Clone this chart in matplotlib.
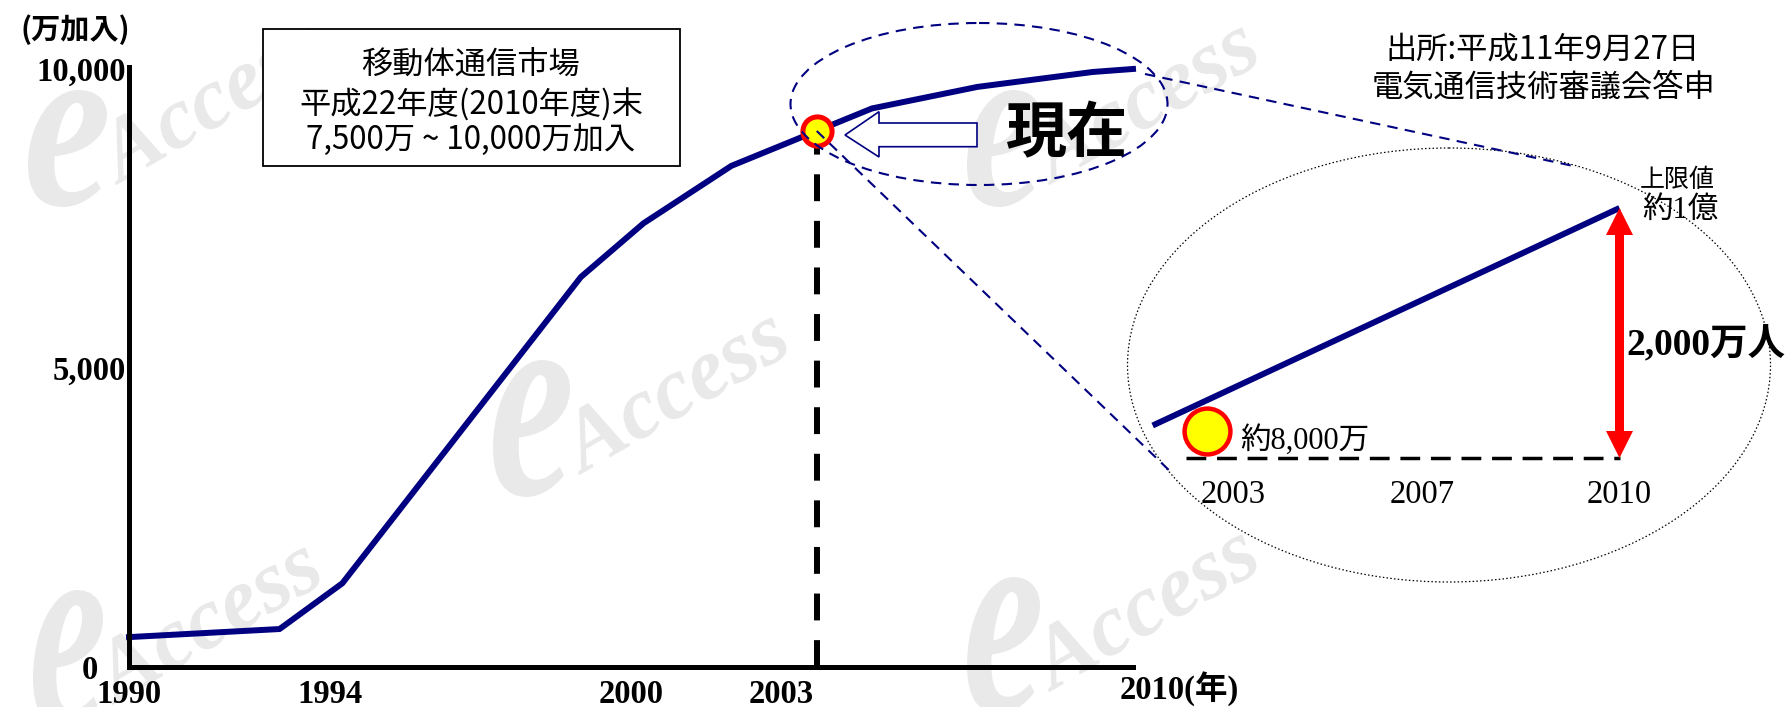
import numpy as np
import matplotlib
matplotlib.use("Agg")
import matplotlib.pyplot as plt
from matplotlib.patches import Ellipse, Rectangle, Polygon, PathPatch
from matplotlib.textpath import TextPath
from matplotlib.font_manager import FontProperties
from matplotlib.transforms import Affine2D, ScaledTranslation

# Mobile subscriptions, 万加入
years = [1990, 1993, 1994.25, 1999, 2000.25, 2002, 2004.8, 2006.9, 2009.2, 2010]
subs = [500, 635, 1400, 6520, 7420, 8380, 9340, 9700, 9950, 10000]
year_ticks = [1990, 1994, 2000, 2003, 2010]
year_labels = ["1990", "1994", "2000", "2003", "2010(年)"]
value_ticks = [0, 5000, 10000]
value_labels = ["0", "5,000", "10,000"]
now_year = 2003.7

# Close-up of 2003 -> 2010
zoom_years = [2001.3, 2010]
zoom_subs = [8260, 10000]
zoom_ticks = [2003, 2007, 2010]
zoom_tick_labels = ["2003", "2007", "2010"]
zoom_now = (2002.45, 8220)
zoom_base = 8000
zoom_cap = 10000
zoom_base_span = [2002, 2010]

NAVY = "#000080"
WM_GREY = "#e9e9e9"
SERIF_CJK = ["Liberation Serif", "Noto Sans CJK JP"]
SANS_CJK = ["Noto Sans CJK JP", "DejaVu Sans"]

W, H = 1787, 707
fig = plt.figure(figsize=(W / 100, H / 100), dpi=100)
fig.patch.set_facecolor("white")


def px_rect(x0, y0, x1, y1):
    return [x0 / W, 1 - y1 / H, (x1 - x0) / W, (y1 - y0) / H]


# faint "eAccess" watermarks behind everything
wm = fig.add_axes([0, 0, 1, 1], zorder=0)
wm.set_xlim(0, W)
wm.set_ylim(0, H)
wm.axis("off")
WM_PROP = FontProperties(family="Liberation Serif", style="italic", weight="bold")


def watermark(x0, x1, y0, y1):
    e = TextPath((0, 0), "e", size=100, prop=WM_PROP)
    ext = e.get_extents()
    t = (Affine2D().translate(-ext.x0, -ext.y0)
         .scale((x1 - x0) / ext.width, (y1 - y0) / ext.height)
         .translate(x0, H - y1))
    wm.add_patch(PathPatch(t.transform_path(e), fc=WM_GREY, ec="none"))
    word = TextPath((0, 0), "Access", size=88, prop=WM_PROP)
    t2 = Affine2D().rotate_deg(30).translate(x1 + 13, H - y1 + 24)
    wm.add_patch(PathPatch(t2.transform_path(word), fc=WM_GREY, ec="none"))


for box in [(28, 107, 90, 207), (967, 1040, 90, 207), (493, 570, 360, 497),
            (33, 103, 590, 727), (967, 1040, 577, 714)]:
    watermark(*box)

# main growth curve
ax = fig.add_axes(px_rect(129, 67, 1133, 667), zorder=1)
ax.patch.set_alpha(0)
ax.set_xlim(1990, 2010)
ax.set_ylim(0, 10033)
for side in ["top", "right"]:
    ax.spines[side].set_visible(False)
for side in ["left", "bottom"]:
    ax.spines[side].set_linewidth(3.6)
    ax.spines[side].set_color("black")

ax.plot(years, subs, color=NAVY, lw=4.3, clip_on=False, zorder=2)
now_val = np.interp(now_year, years, subs)
ax.plot([now_year, now_year], [0, now_val], color="black", lw=4.3,
        dashes=(4.5, 3.3), zorder=1)
ax.plot(now_year, now_val, "o", ms=21, mfc="yellow", mec="red", mew=3.6,
        zorder=4, clip_on=False)

ax.set_xticks(year_ticks, year_labels, fontfamily=SERIF_CJK,
              fontweight="bold", fontsize=23.5)
ax.set_yticks(value_ticks, value_labels, fontfamily="Liberation Serif",
              fontweight="bold", fontsize=23.5)
ax.tick_params(axis="x", length=0, pad=8.5)
ax.tick_params(axis="y", length=0, pad=2)
last = ax.get_xticklabels()[-1]
last.set_ha("left")
last.set_transform(last.get_transform() + ScaledTranslation(-0.13, 0.075, fig.dpi_scale_trans))
zero = ax.get_yticklabels()[0]
zero.set_transform(zero.get_transform() + ScaledTranslation(-0.28, 0, fig.dpi_scale_trans))

# overlay for callouts, in pixel coordinates (origin top-left)
ov = fig.add_axes([0, 0, 1, 1], zorder=2)
ov.patch.set_alpha(0)
ov.set_xlim(0, W)
ov.set_ylim(H, 0)
ov.axis("off")

now_px = ov.transData.inverted().transform(ax.transData.transform((now_year, now_val)))

ov.add_patch(Ellipse((1449, 365), 643, 434, fc="white", ec="black", lw=0.9,
                     ls=(0, (1.2, 1.8)), zorder=1))
ov.plot([1145, 1578], [74, 167], color=NAVY, lw=1.5, dashes=(5, 3.5), zorder=3)
ov.plot([now_px[0], 1174], [now_px[1], 475], color=NAVY, lw=1.5,
        dashes=(5, 3.5), zorder=3)
ov.add_patch(Ellipse((979, 104), 377, 162, fill=False, ec=NAVY, lw=1.5,
                     ls=(0, (5, 3.5)), zorder=2))

ov.add_patch(Rectangle((262.5, 29), 417, 137, fc="white", ec="black", lw=1.3, zorder=2))
for txt, y in [("移動体通信市場", 65), ("平成22年度(2010年度)末", 105),
               ("7,500万 ~ 10,000万加入", 140)]:
    ov.text(471, y, txt, ha="center", va="center", fontsize=22.5,
            fontfamily=SANS_CJK, zorder=3)

ov.text(75, 30, "(万加入)", ha="center", va="center", fontsize=21,
        fontweight="bold", fontfamily=SANS_CJK)

ov.add_patch(Polygon([(845, 135), (879, 111.7), (879, 123), (977, 123),
                      (977, 146.7), (879, 146.7), (879, 157)],
                     closed=True, fc="white", ec=NAVY, lw=1.2, zorder=3))
ov.text(1066.7, 135, "現在", ha="center", va="center", fontsize=44,
        fontweight="bold", fontfamily=SANS_CJK, zorder=3)

ov.text(1543, 50, "出所:平成11年9月27日", ha="center", va="center",
        fontsize=22.5, fontfamily=SANS_CJK)
ov.text(1543, 87, "電気通信技術審議会答申", ha="center", va="center",
        fontsize=22.5, fontfamily=SANS_CJK)

ov.text(1639.5, 180, "上限値", ha="left", va="center", fontsize=18,
        fontfamily=SANS_CJK, zorder=4)
ov.text(1642, 210, "約1億", ha="left", va="center", fontsize=22,
        fontfamily=SERIF_CJK, zorder=4)
ov.text(1626, 345, "2,000万人", ha="left", va="center", fontsize=27,
        fontweight="bold", fontfamily=SERIF_CJK, zorder=4)
ov.text(1240, 440, "約8,000万", ha="left", va="center", fontsize=22,
        fontfamily=SERIF_CJK, zorder=4)

# close-up axes: tick labels sit at uneven spacing
zoom_px = [1233, 1422, 1619.5]
s_lo = (zoom_px[1] - zoom_px[0]) / (zoom_ticks[1] - zoom_ticks[0])
s_hi = (zoom_px[2] - zoom_px[1]) / (zoom_ticks[2] - zoom_ticks[1])


def fwd(x):
    x = np.asarray(x, dtype=float)
    return np.where(x < zoom_ticks[0], zoom_px[0] + (x - zoom_ticks[0]) * s_lo,
                    np.where(x > zoom_ticks[-1], zoom_px[-1] + (x - zoom_ticks[-1]) * s_hi,
                             np.interp(x, zoom_ticks, zoom_px)))


def inv(p):
    p = np.asarray(p, dtype=float)
    return np.where(p < zoom_px[0], zoom_ticks[0] + (p - zoom_px[0]) / s_lo,
                    np.where(p > zoom_px[-1], zoom_ticks[-1] + (p - zoom_px[-1]) / s_hi,
                             np.interp(p, zoom_px, zoom_ticks)))


X0, X1, Y0, Y1 = 1130, 1760, 150, 470
ins = fig.add_axes(px_rect(X0, Y0, X1, Y1), zorder=3)
ins.patch.set_alpha(0)
ins.set_xscale("function", functions=(fwd, inv))
ins.set_xlim(float(inv(X0)), float(inv(X1)))
per_px = (zoom_cap - zoom_base) / (458 - 208)
ins.set_ylim(zoom_base - (Y1 - 458) * per_px, zoom_cap + (208 - Y0) * per_px)
for s in ins.spines.values():
    s.set_visible(False)
ins.set_yticks([])
ins.set_xticks(zoom_ticks, zoom_tick_labels, fontfamily="Liberation Serif", fontsize=23.5)
ins.tick_params(axis="x", length=0, pad=7)

ins.plot(zoom_years, zoom_subs, color=NAVY, lw=4.3, solid_capstyle="butt", clip_on=False)
ins.plot(zoom_base_span, [zoom_base, zoom_base], color="black", lw=2.5,
         dashes=(5.7, 3.1), clip_on=False)
ins.plot(*zoom_now, "o", ms=33, mfc="yellow", mec="red", mew=3.2, clip_on=False, zorder=4)

mid = (zoom_base + zoom_cap) / 2
for end in [zoom_cap, zoom_base]:
    ins.arrow(zoom_years[-1], mid, 0, end - mid, width=0.137, head_width=0.41,
              head_length=27 * per_px, length_includes_head=True,
              color="red", lw=0, zorder=3)

fig.savefig("out.png", dpi=100)
